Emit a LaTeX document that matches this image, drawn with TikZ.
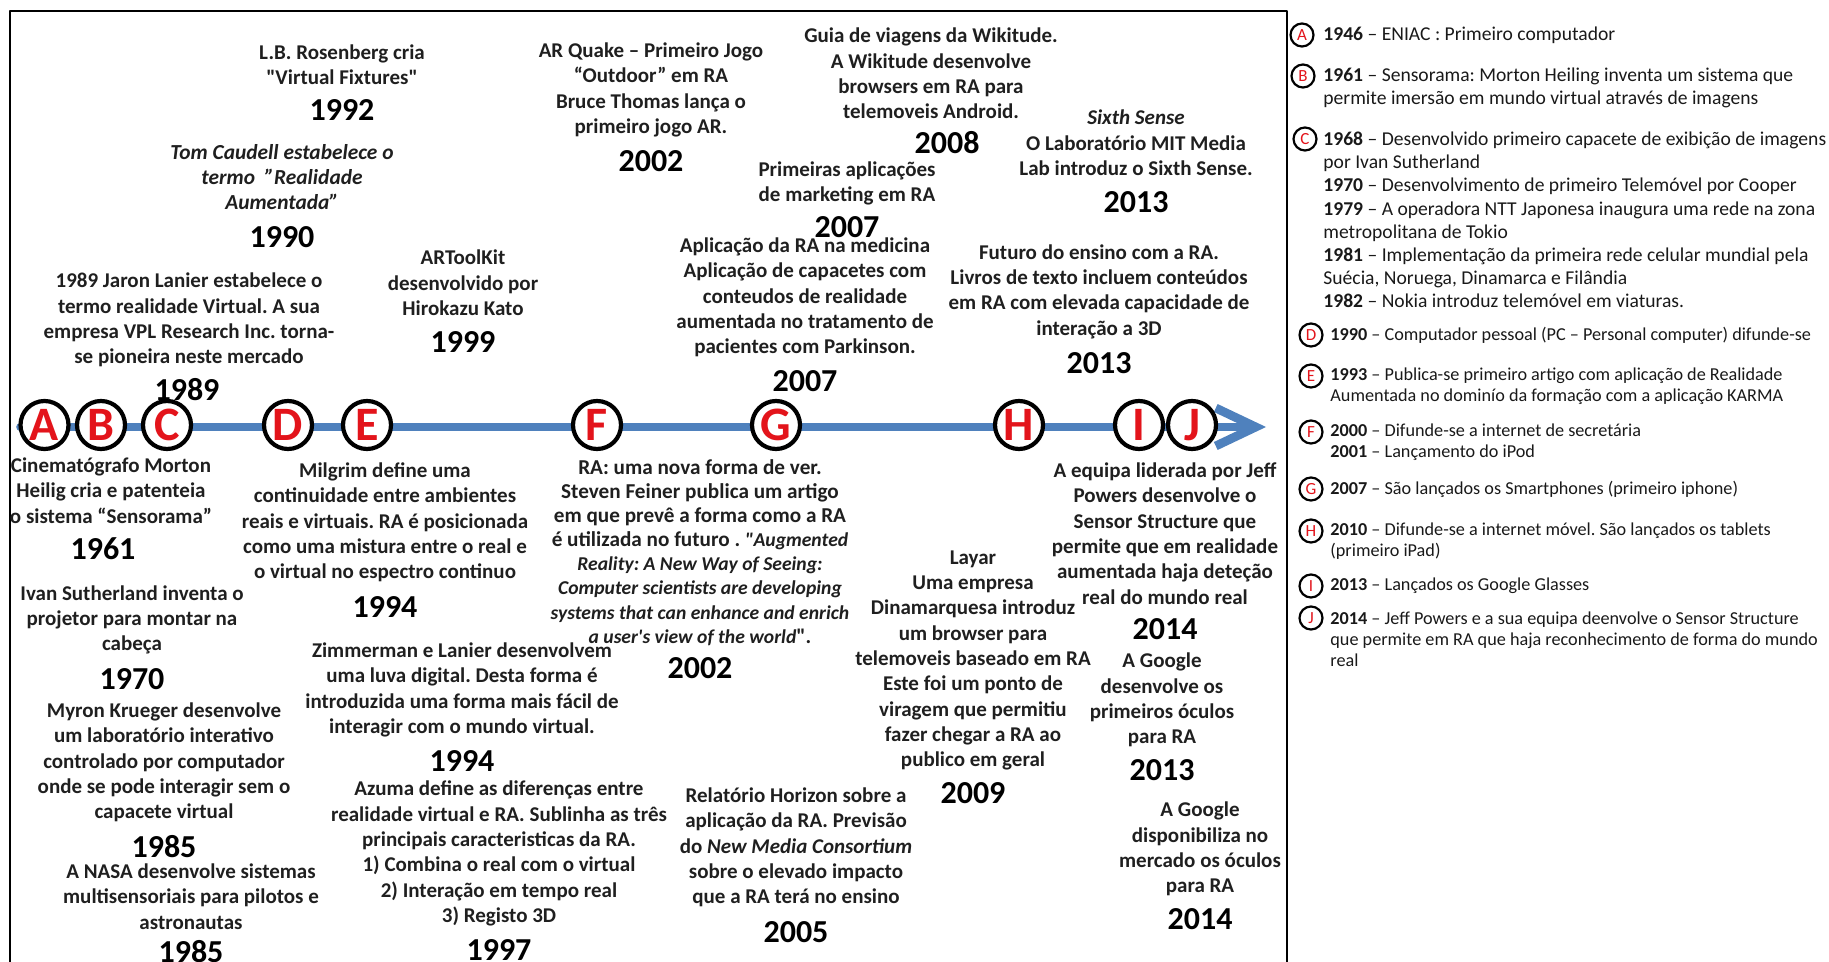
\documentclass[tikz,border=0pt]{standalone}
\usepackage{fontspec}
\setmainfont{Carlito}
\usetikzlibrary{arrows.meta}
\definecolor{tlblue}{HTML}{4F81BD}
\definecolor{mred}{HTML}{E3141B}
\frenchspacing
\tikzset{
  evt/.style={font=\fontsize{10.5}{12.65}\selectfont\bfseries, align=center, inner sep=0pt, text=black!88},
  yr/.style={font=\fontsize{16}{16}\selectfont\bfseries, inner sep=0pt},
  milestone/.style={circle, draw=black, line width=2.1pt, fill=white, minimum size=24pt, inner sep=0pt,
    text=mred, font=\fontsize{24}{24}\selectfont\bfseries},
  legmark/.style={circle, draw=black, line width=1.1pt, fill=white, minimum size=11.5pt, inner sep=0pt,
    text=mred, font=\fontsize{8.5}{8.5}\selectfont},
  legtxt/.style={anchor=west, align=left, inner sep=0pt, font=\fontsize{9.8}{11.6}\selectfont, text=black!90},
  legsmall/.style={legtxt, font=\fontsize{9.1}{10.6}\selectfont},
  tl/.style={line width=3.8pt, draw=tlblue, -{Straight Barb[length=20pt,width=19pt,line width=4.4pt]}}
}
\newcommand{\dq}{\textquotedbl}
\begin{document}
\begin{tikzpicture}[x=0.5pt,y=-0.5pt,line cap=round,line join=round]
\useasboundingbox (0,0) rectangle (1829,962);
\draw[line width=1pt] (10,980) -- (10,11) -- (1287,11) -- (1287,980);

\coordinate (tlstart) at (20,427);
\coordinate (tlend) at (1266,427);
\draw[tl] (tlstart) -- (tlend);
\foreach \lbl/\xx in {A/44.5,B/101,C/167,D/288,E/367,F/597,G/776,H/1019,I/1139,J/1192}
  \node[milestone] (m\lbl) at (\xx,425) {\lbl};

\node[evt] (rosenberg) at (342,65) {L.B. Rosenberg cria\\\dq Virtual Fixtures\dq};
\node[yr] (rosenberg-y) at (342,110) {1992};
\node[evt,font=\fontsize{10.7}{12.65}\selectfont\bfseries\itshape] (caudell) at (282,177) {Tom Caudell estabelece o\\termo \ ”Realidade\\Aumentada”};
\node[yr] (caudell-y) at (282,237) {1990};
\node[evt] (lanier) at (189,320) {1989 Jaron Lanier estabelece o\\termo realidade Virtual. A sua\\empresa VPL Research Inc. torna-\\se pioneira neste mercado};
\node[yr] (lanier-y) at (187,390) {1989};
\node[evt] (artoolkit) at (463,283) {ARToolKit\\desenvolvido por\\Hirokazu Kato};
\node[yr] (artoolkit-y) at (463,342) {1999};
\node[evt] (arquake) at (651,90) {AR Quake – Primeiro Jogo\\“Outdoor” em RA\\Bruce Thomas lança o\\primeiro jogo AR.};
\node[yr] (arquake-y) at (651,161) {2002};
\node[evt] (wikitude) at (931,73.5) {Guia de viagens da Wikitude.\\A Wikitude desenvolve\\browsers em RA para\\telemoveis Android.};
\node[yr] (wikitude-y) at (947,143) {2008};
\node[evt] (marketing) at (847,183.5) {Primeiras aplicações\\de marketing em RA};
\node[yr] (marketing-y) at (847,227) {2007};
\node[evt] (sixthsense) at (1136,143) {\textit{Sixth Sense}\\O Laboratório MIT Media\\Lab introduz o Sixth Sense.};
\node[yr] (sixthsense-y) at (1136,202) {2013};
\node[evt] (medicina) at (805,297.5) {Aplicação da RA na medicina\\Aplicação de capacetes com\\conteudos de realidade\\aumentada no tratamento de\\pacientes com Parkinson.};
\node[yr] (medicina-y) at (805,381) {2007};
\node[evt] (ensino) at (1099,291.5) {Futuro do ensino com a RA.\\Livros de texto incluem conteúdos\\em RA com elevada capacidade de\\interação a 3D};
\node[yr] (ensino-y) at (1099,363) {2013};

\node[evt] (sensorama) at (111,490.5) {Cinematógrafo Morton\\Heilig cria e patenteia\\o sistema “Sensorama”};
\node[yr] (sensorama-y) at (103,549) {1961};
\node[evt] (sutherland) at (132,620) {Ivan Sutherland inventa o\\projetor para montar na\\cabeça};
\node[yr] (sutherland-y) at (132,679) {1970};
\node[evt] (krueger) at (164,762.5) {Myron Krueger desenvolve\\um laboratório interativo\\controlado por computador\\onde se pode interagir sem o\\capacete virtual};
\node[yr] (krueger-y) at (164,847) {1985};
\node[evt] (nasa) at (191,896.5) {A NASA desenvolve sistemas\\multisensoriais para pilotos e\\astronautas};
\node[yr] (nasa-y) at (191,952) {1985};
\node[evt] (milgrim) at (385,522.5) {Milgrim define uma\\continuidade entre ambientes\\reais e virtuais. RA é posicionada\\como uma mistura entre o real e\\o virtual no espectro continuo};
\node[yr] (milgrim-y) at (385,607) {1994};
\node[evt] (zimmerman) at (462,690) {Zimmerman e Lanier desenvolvem\\uma luva digital. Desta forma é\\introduzida uma forma mais fácil de\\interagir com o mundo virtual.};
\node[yr] (zimmerman-y) at (462,761) {1994};
\node[evt] (azuma) at (499,853.5) {Azuma define as diferenças entre\\realidade virtual e RA. Sublinha as três\\principais caracteristicas da RA.\\1) Combina o real com o virtual\\2) Interação em tempo real\\3) Registo 3D};
\node[yr] (azuma-y) at (499,950) {1997};
\node[evt,font=\fontsize{10.6}{12.05}\selectfont\bfseries] (feiner) at (700,552.5) {RA: uma nova forma de ver.\\Steven Feiner publica um artigo\\em que prevê a forma como a RA\\é utilizada no futuro . \textit{\fontsize{9.8}{12.05}\selectfont\dq Augmented}\\\textit{\fontsize{9.8}{12.05}\selectfont Reality: A New Way of Seeing:}\\\textit{\fontsize{9.8}{12.05}\selectfont Computer scientists are developing}\\\textit{\fontsize{9.8}{12.05}\selectfont systems that can enhance and enrich}\\\textit{\fontsize{9.8}{12.05}\selectfont a user\textquotesingle s view of the world}\dq.};
\node[yr] (feiner-y) at (700,668) {2002};
\node[evt] (horizon) at (796,847.5) {Relatório Horizon sobre a\\aplicação da RA. Previsão\\do \textit{New Media Consortium}\\sobre o elevado impacto\\que a RA terá no ensino};
\node[yr] (horizon-y) at (796,932) {2005};
\node[evt] (layar) at (973,660.5) {Layar\\Uma empresa\\Dinamarquesa introduz\\um browser para\\telemoveis baseado em RA\\Este foi um ponto de\\viragem que permitiu\\fazer chegar a RA ao\\publico em geral};
\node[yr] (layar-y) at (973,793) {2009};
\node[evt] (powers) at (1165,533.5) {A equipa liderada por Jeff\\Powers desenvolve o\\Sensor Structure que\\permite que em realidade\\aumentada haja deteção\\real do mundo real};
\node[yr] (powers-y) at (1165,629) {2014};
\node[evt] (glass) at (1162,700) {A Google\\desenvolve os\\primeiros óculos\\para RA};
\node[yr] (glass-y) at (1162,770) {2013};
\node[evt] (glassmkt) at (1200,849) {A Google\\disponibiliza no\\mercado os óculos\\para RA};
\node[yr] (glassmkt-y) at (1200,919) {2014};

\foreach \lbl/\xx/\yy in {A/1302/35,B/1303/76,C/1305/139,D/1311/335,E/1311/376,F/1311/432,G/1311/489,H/1311/531,I/1311/586,J/1311/618}
  \node[legmark] (k\lbl) at (\xx,\yy) {\lbl};
\node[legtxt] (kA-txt) at (1323,35) {\textbf{1946} – ENIAC : Primeiro computador};
\node[legtxt] (kB-txt) at (1323,88) {\textbf{1961} – Sensorama: Morton Heiling inventa um sistema que\\permite imersão em mundo virtual através de imagens};
\node[legtxt] (kC-txt) at (1323,220) {\textbf{1968} – Desenvolvido primeiro capacete de exibição de imagens\\por Ivan Sutherland\\\textbf{1970} – Desenvolvimento de primeiro Telemóvel por Cooper\\\textbf{1979} – A operadora NTT Japonesa inaugura uma rede na zona\\metropolitana de Tokio\\\textbf{1981} – Implementação da primeira rede celular mundial pela\\Suécia, Noruega, Dinamarca e Filândia\\\textbf{1982} – Nokia introduz telemóvel em viaturas.};
\node[legsmall] (kD-txt) at (1330,335) {\textbf{1990} – Computador pessoal (PC – Personal computer) difunde-se};
\node[legsmall] (kE-txt) at (1330,386.5) {\textbf{1993} – Publica-se primeiro artigo com aplicação de Realidade\\Aumentada no dominío da formação com a aplicação KARMA};
\node[legsmall] (kF-txt) at (1330,442.5) {\textbf{2000} – Difunde-se a internet de secretária\\\textbf{2001} – Lançamento do iPod};
\node[legsmall] (kG-txt) at (1330,489) {\textbf{2007} – São lançados os Smartphones (primeiro iphone)};
\node[legsmall] (kH-txt) at (1330,541.5) {\textbf{2010} – Difunde-se a internet móvel. São lançados os tablets\\(primeiro iPad)};
\node[legsmall] (kI-txt) at (1330,586) {\textbf{2013} – Lançados os Google Glasses};
\node[legsmall] (kJ-txt) at (1330,639.5) {\textbf{2014} – Jeff Powers e a sua equipa deenvolve o Sensor Structure\\que permite em RA que haja reconhecimento de forma do mundo\\real};
\end{tikzpicture}
\end{document}
